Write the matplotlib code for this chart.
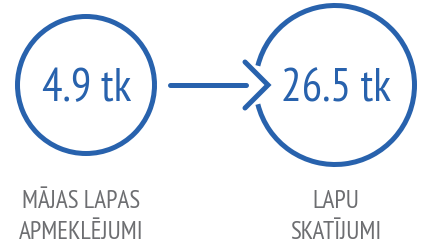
import numpy as np
import matplotlib
matplotlib.use('Agg')
import matplotlib.pyplot as plt
from matplotlib.patches import Arc

values = [4.9, 26.5]
unit = 'tk'
labels = ['MĀJAS LAPAS\nAPMEKLĒJUMI', 'LAPU\nSKATĪJUMI']

blue = '#2862ad'
grey = '#6d6e71'
fonts = ['PT Sans Narrow', 'DejaVu Sans']

W, H = 421, 245
fig = plt.figure(figsize=(W / 100, H / 100), dpi=100)
ax = fig.add_axes([0, 0, 1, 1])
ax.set_xlim(0, W)
ax.set_ylim(H, 0)
ax.axis('off')

lw = 3.6  # ~5 px
centers = [(86, 85), (335, 85)]
radii = [68.5, 79.5]

# left circle: full ring
ax.add_patch(Arc(centers[0], 2 * radii[0], 2 * radii[0], theta1=0, theta2=360,
                 color=blue, lw=lw))
# right circle: gap on the left where the arrowhead sits
ax.add_patch(Arc(centers[1], 2 * radii[1], 2 * radii[1], theta1=-166, theta2=166,
                 color=blue, lw=lw))

# arrow shaft and chevron head
ax.plot([170, 246], [85, 85], color=blue, lw=lw, solid_capstyle='round')
ax.plot([245, 268, 245], [62, 85, 108], color=blue, lw=lw,
        solid_capstyle='round', solid_joinstyle='miter')

for (cx, cy), v, lab in zip(centers, values, labels):
    ax.text(cx + 1, 101, f'{v} {unit}', family=fonts, fontsize=33, color=blue,
            ha='center', va='baseline')
    for i, line in enumerate(lab.split('\n')):
        ax.text(cx - 5 if cx < 200 else cx + 1, 208 + 31 * i, line, family=fonts,
                fontsize=18, color=grey, ha='center', va='baseline')

fig.savefig('out.png', dpi=100)
